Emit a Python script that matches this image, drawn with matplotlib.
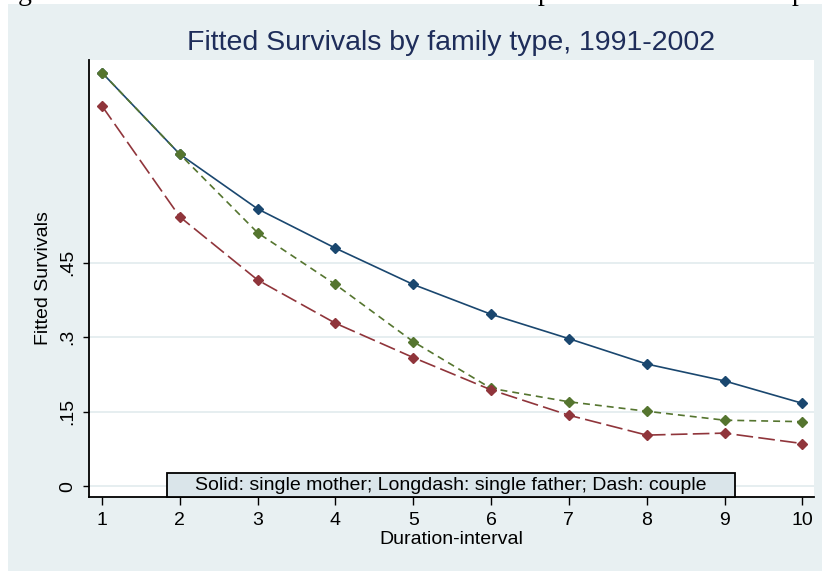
import matplotlib
matplotlib.use("Agg")
import matplotlib.pyplot as plt
from matplotlib.patches import Rectangle

W, H = 822, 571
durations = [1, 2, 3, 4, 5, 6, 7, 8, 9, 10]
single_mother = [0.832, 0.668, 0.558, 0.479, 0.406, 0.346, 0.297, 0.246, 0.212, 0.167]
single_father = [0.765, 0.542, 0.415, 0.328, 0.259, 0.194, 0.143, 0.103, 0.107, 0.086]
couple = [0.832, 0.668, 0.510, 0.406, 0.291, 0.197, 0.170, 0.151, 0.133, 0.130]
yticks = [0, 0.15, 0.3, 0.45]
yticklabels = ["0", ".15", ".3", ".45"]
title = "Fitted Survivals by family type, 1991-2002"
note = "Solid: single mother; Longdash: single father; Dash: couple"

plt.rcParams['font.family'] = ['Liberation Sans', 'DejaVu Sans']
plt.rcParams['lines.scale_dashes'] = False

bg = "#e8f0f2"
fig = plt.figure(figsize=(W / 100, H / 100), dpi=100)
fig.patch.set_facecolor("white")
fig.patches.append(Rectangle((8 / W, 0), 1 - 8 / W, (H - 4) / H, transform=fig.transFigure,
                             facecolor=bg, edgecolor="none", zorder=-2))

# cut-off document text at the very top (only descenders visible)
for xp, s in [(18, "g"), (538, "p"), (792, "p")]:
    fig.text(xp / W, 1 + 0.5 / H, s, fontsize=20, family="Liberation Serif", va="baseline", ha="left")

ax = fig.add_axes([89 / W, (H - 497) / H, (814 - 89) / W, (497 - 60) / H])
ax.set_zorder(1)
ax.set_facecolor("white")
ax.set_xlim(0.833, 10.15)
ax.set_ylim(-0.0215, 0.8575)

for y in yticks:
    ax.axhline(y, color="#e6eef0", lw=1.4, zorder=1)

ax.plot(durations, single_mother, color="#1a476f", lw=1.2, marker="D", ms=4.6, zorder=3)
ax.plot(durations, couple, color="#55752f", lw=1.2, marker="D", ms=4.6, dashes=(5, 3.6), zorder=3)
ax.plot(durations, single_father, color="#90353b", lw=1.2, marker="D", ms=4.6, dashes=(12, 3.8), zorder=3)

ax.set_xticks(durations)
ax.set_xticklabels([str(d) for d in durations], fontsize=14)
ax.set_yticks(yticks)
ax.set_yticklabels(yticklabels, fontsize=14, rotation=90, va="center")
ax.tick_params(axis="x", length=6, width=1, color="black", pad=5)
ax.tick_params(axis="y", length=4.5, width=1, color="black", pad=5)
for s in ["top", "right"]:
    ax.spines[s].set_visible(False)
for s in ["left", "bottom"]:
    ax.spines[s].set_linewidth(1.3)

ax.set_xlabel("Duration-interval", fontsize=14, labelpad=1)
ax.set_ylabel("Fitted Survivals", fontsize=14, labelpad=5)

fig.text(451 / W, 1 - 43 / H, title, fontsize=20.5, color="#1e2d5a", ha="center", va="center")

fig.patches.append(Rectangle((167 / W, (H - 497) / H), (735 - 167) / W, 24 / H, transform=fig.transFigure,
                             facecolor="#dae5ea", edgecolor="black", lw=1.3, zorder=5))
fig.text(451 / W, 1 - 485 / H, note, fontsize=14, ha="center", va="center", zorder=6)

fig.savefig("out.png", dpi=100, facecolor=fig.get_facecolor())
